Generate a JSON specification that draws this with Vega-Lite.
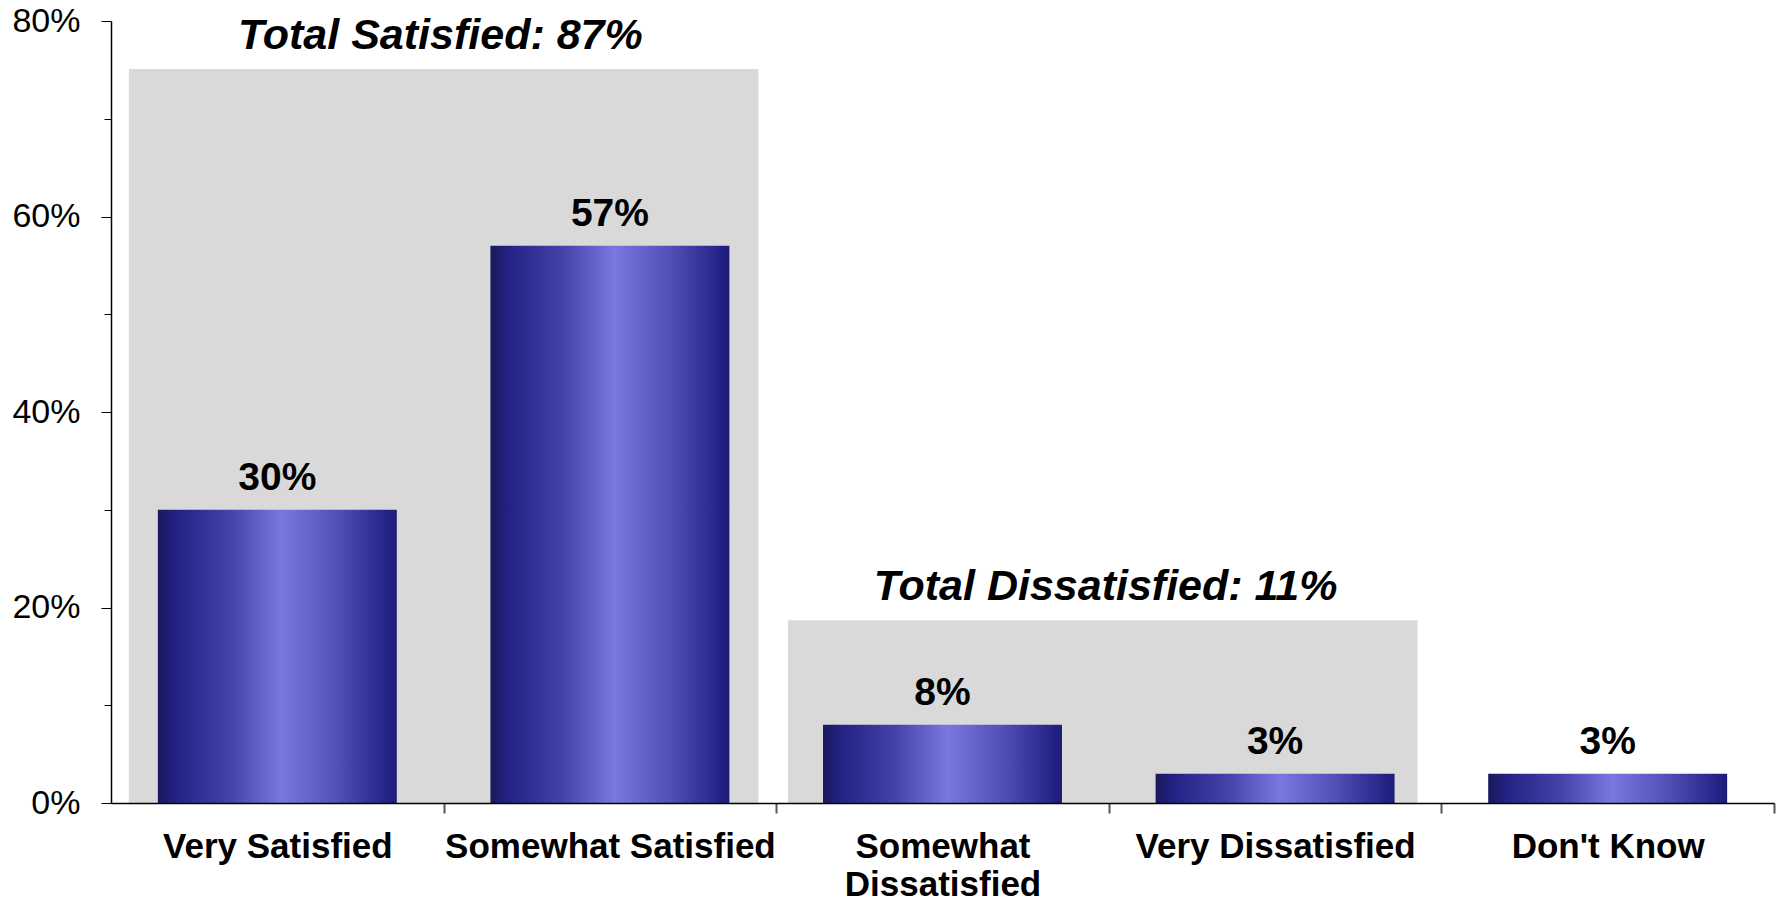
{
  "$schema": "https://vega.github.io/schema/vega-lite/v6.json",
  "width": 1663,
  "height": 782,
  "autosize": {"type": "none"},
  "padding": {"left": 111, "top": 21, "right": 11, "bottom": 97},
  "background": "white",
  "config": {"view": {"stroke": null}, "font": "Liberation Sans"},
  "datasets": {
    "responses": [
      {"category": "Very Satisfied", "pct": 30},
      {"category": "Somewhat Satisfied", "pct": 57},
      {"category": "Somewhat Dissatisfied", "pct": 8},
      {"category": "Very Dissatisfied", "pct": 3},
      {"category": "Don't Know", "pct": 3}
    ],
    "groups": [
      {"label": "Total Satisfied: 87%", "first": "Very Satisfied", "last": "Somewhat Satisfied", "top": 75.1},
      {"label": "Total Dissatisfied: 11%", "first": "Somewhat Dissatisfied", "last": "Very Dissatisfied", "top": 18.7}
    ]
  },
  "layer": [
    {
      "data": {"name": "groups"},
      "transform": [{"filter": "datum.first === 'Very Satisfied'"}],
      "mark": {"type": "rect", "color": "#d9d9d9", "xOffset": -29, "x2Offset": 29},
      "encoding": {
        "x": {"field": "first", "type": "nominal", "bandPosition": 0,
              "scale": {"domain": ["Very Satisfied", "Somewhat Satisfied", "Somewhat Dissatisfied", "Very Dissatisfied", "Don't Know"], "paddingInner": 0.2815, "paddingOuter": 0.1408},
              "axis": {"title": null, "labelFontSize": 35, "labelFontWeight": "bold", "labelColor": "black", "labelFont": "Liberation Sans",
                       "labelPadding": 16, "tickSize": 10, "bandPosition": 1, "tickOffset": 46.8, "labelOffset": -46.8,
                       "tickColor": "#555555", "tickWidth": 2,
                       "domainColor": "black", "domainWidth": 1.5, "labelLineHeight": 38, "labelAngle": 0, "labelLimit": 400,
                       "labelBaseline": "top", "zindex": 1,
                       "labelExpr": "datum.label == 'Somewhat Dissatisfied' ? ['Somewhat', 'Dissatisfied'] : datum.label"}},
        "x2": {"field": "last", "bandPosition": 1},
        "y": {"field": "top", "type": "quantitative", "scale": {"domain": [0, 80]},
              "axis": {"title": null, "values": [0, 10, 20, 30, 40, 50, 60, 70, 80], "grid": false,
                       "labelExpr": "datum.value % 20 === 0 ? datum.value + '%' : ''",
                       "labelFontSize": 34, "labelFont": "Liberation Sans", "labelColor": "black", "labelPadding": 21,
                       "tickSize": {"condition": {"test": "datum.value % 20 === 0", "value": 10}, "value": 7},
                       "tickColor": "black", "domainColor": "black", "domainWidth": 1.5, "zindex": 1}},
        "y2": {"datum": 0}
      }
    },
    {
      "data": {"name": "groups"},
      "transform": [{"filter": "datum.first === 'Somewhat Dissatisfied'"}],
      "mark": {"type": "rect", "color": "#d9d9d9", "xOffset": -35, "x2Offset": 23},
      "encoding": {
        "x": {"field": "first", "type": "nominal", "bandPosition": 0},
        "x2": {"field": "last", "bandPosition": 1},
        "y": {"field": "top", "type": "quantitative"},
        "y2": {"datum": 0}
      }
    },
    {
      "data": {"name": "groups"},
      "mark": {"type": "text", "fontSize": 43, "fontWeight": "bold", "fontStyle": "italic", "color": "black", "align": "center", "baseline": "alphabetic", "dy": -20, "dx": -50},
      "encoding": {
        "x": {"field": "last", "type": "nominal", "bandPosition": 0},
        "y": {"field": "top", "type": "quantitative"},
        "text": {"field": "label"}
      }
    },
    {
      "data": {"name": "responses"},
      "mark": {"type": "bar", "color": {"gradient": "linear", "x1": 0, "x2": 1, "y1": 0, "y2": 0,
        "stops": [
          {"offset": 0, "color": "#19195c"},
          {"offset": 0.08, "color": "#232386"},
          {"offset": 0.3, "color": "#4242a8"},
          {"offset": 0.52, "color": "#7878de"},
          {"offset": 0.75, "color": "#5050b6"},
          {"offset": 0.95, "color": "#25258a"},
          {"offset": 1, "color": "#1c1c78"}
        ]}},
      "encoding": {
        "x": {"field": "category", "type": "nominal"},
        "y": {"field": "pct", "type": "quantitative"}
      }
    },
    {
      "data": {"name": "responses"},
      "transform": [{"calculate": "datum.pct + '%'", "as": "valueLabel"}],
      "mark": {"type": "text", "fontSize": 39, "fontWeight": "bold", "color": "black", "align": "center", "baseline": "alphabetic", "dy": -20},
      "encoding": {
        "x": {"field": "category", "type": "nominal"},
        "y": {"field": "pct", "type": "quantitative"},
        "text": {"field": "valueLabel"}
      }
    }
  ]
}
